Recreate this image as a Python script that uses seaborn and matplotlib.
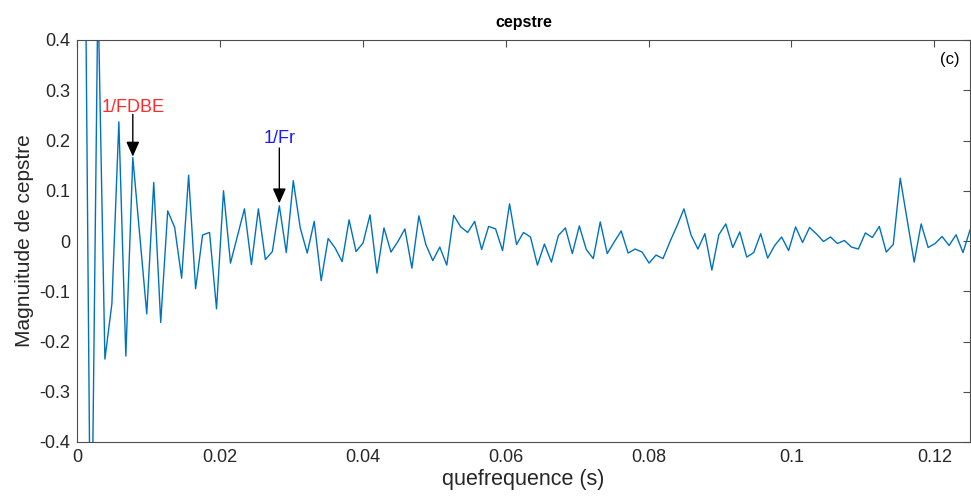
import numpy as np
import pandas as pd
import matplotlib
matplotlib.use("Agg")
import matplotlib.pyplot as plt
import seaborn as sns

# ---- data ----
fs = 1024  # sampling rate of the quefrency axis (samples per second)
cepstrum = [
    1.2, 0.9, -0.75, 0.5, -0.235, -0.125, 0.237, -0.229, 0.166, 0.01,
    -0.145, 0.1165, -0.162, 0.060, 0.027, -0.074, 0.131, -0.095, 0.012, 0.017,
    -0.135, 0.100, -0.044, 0.01, 0.064, -0.047, 0.064, -0.037, -0.021, 0.070,
    -0.023, 0.120, 0.026, -0.024, 0.039, -0.079, 0.005, -0.014, -0.041, 0.042,
    -0.021, -0.004, 0.052, -0.064, 0.026, -0.022, -0.001, 0.024, -0.054, 0.050,
    -0.007, -0.039, -0.012, -0.048, 0.051, 0.028, 0.017, 0.039, -0.017, 0.029,
    0.024, -0.019, 0.074, -0.007, 0.017, 0.008, -0.048, -0.006, -0.042, 0.011,
    0.026, -0.025, 0.030, -0.017, -0.035, 0.038, -0.025, -0.002, 0.020, -0.024,
    -0.016, -0.022, -0.044, -0.028, -0.035, -0.001, 0.030, 0.064, 0.0125, -0.016,
    0.0145, -0.058, 0.0125, 0.034, -0.013, 0.018, -0.032, -0.023, 0.0145, -0.034,
    -0.009, 0.008, -0.019, 0.028, -0.003, 0.027, 0.014, -0.001, 0.008, -0.005,
    0.001, -0.012, -0.016, 0.016, 0.007, 0.029, -0.022, -0.007, 0.125, 0.042,
    -0.042, 0.034, -0.013, -0.005, 0.009, -0.009, 0.0125, -0.023, 0.022,
]
quefrency = np.arange(len(cepstrum)) / fs

x_ticks = [0, 0.02, 0.04, 0.06, 0.08, 0.1, 0.12]
x_tick_labels = ["0", "0.02", "0.04", "0.06", "0.08", "0.1", "0.12"]
y_ticks = [-0.4, -0.3, -0.2, -0.1, 0, 0.1, 0.2, 0.3, 0.4]
y_tick_labels = ["-0.4", "-0.3", "-0.2", "-0.1", "0", "0.1", "0.2", "0.3", "0.4"]

annot_labels = ["1/FDBE", "1/Fr"]
annot_index = [8, 29]
annot_colors = ["#FF2A2A", "#1A1AFF"]
annot_text_y = [0.257, 0.195]
annot_arrow_start = [0.252, 0.185]
annot_arrow_tip = [0.168, 0.075]

df = pd.DataFrame({"quefrency": quefrency, "cepstre": cepstrum})

# ---- style ----
sns.set_theme(style="white")
plt.rcParams["font.family"] = ["Liberation Sans", "DejaVu Sans"]
axis_grey = "#4d4d4d"
plt.rcParams.update({
    "xtick.direction": "in", "ytick.direction": "in",
    "xtick.top": True, "ytick.right": True,
    "axes.edgecolor": axis_grey, "xtick.color": axis_grey, "ytick.color": axis_grey,
    "axes.linewidth": 0.8,
})

fig = plt.figure(figsize=(9.71, 5.03), dpi=100)
ax = fig.add_axes([77 / 971, 1 - 442 / 503, (970 - 77) / 971, (442 - 40) / 503])

sns.lineplot(data=df, x="quefrency", y="cepstre", ax=ax, color="#0072BD",
             linewidth=1.0, estimator=None, sort=False)

ax.set_xlim(0, 0.125)
ax.set_ylim(-0.4, 0.4)
ax.set_xticks(x_ticks)
ax.set_xticklabels(x_tick_labels)
ax.set_yticks(y_ticks)
ax.set_yticklabels(y_tick_labels)
ax.tick_params(axis="both", which="both", length=5, width=0.8, labelsize=13,
               labelcolor="#262626", pad=5)
for s in ax.spines.values():
    s.set_visible(True)
    s.set_color(axis_grey)

ax.set_xlabel("quefrequence (s)", fontsize=15.5, color="#262626", labelpad=2)
ax.set_ylabel("Magnuitude de cepstre", fontsize=15, color="#262626", labelpad=4)
ax.set_title("cepstre", fontsize=11.5, fontweight="bold", color="#000000", pad=9)

ax.text(0.1235, 0.362, "(c)", fontsize=12, ha="right", va="center", color="#000000")

# annotations with arrows
for lab, idx, col, ty, ya, yt in zip(annot_labels, annot_index, annot_colors,
                                      annot_text_y, annot_arrow_start, annot_arrow_tip):
    xv = quefrency[idx]
    ax.annotate("", xy=(xv, yt), xytext=(xv, ya),
                arrowprops=dict(arrowstyle="-|>,head_length=0.45,head_width=0.2",
                                color="black", lw=1.0,
                                mutation_scale=20, shrinkA=0, shrinkB=0))
    ax.text(xv, ty, lab, color=col, fontsize=13, ha="center", va="baseline")

fig.savefig("out.png", dpi=100)
